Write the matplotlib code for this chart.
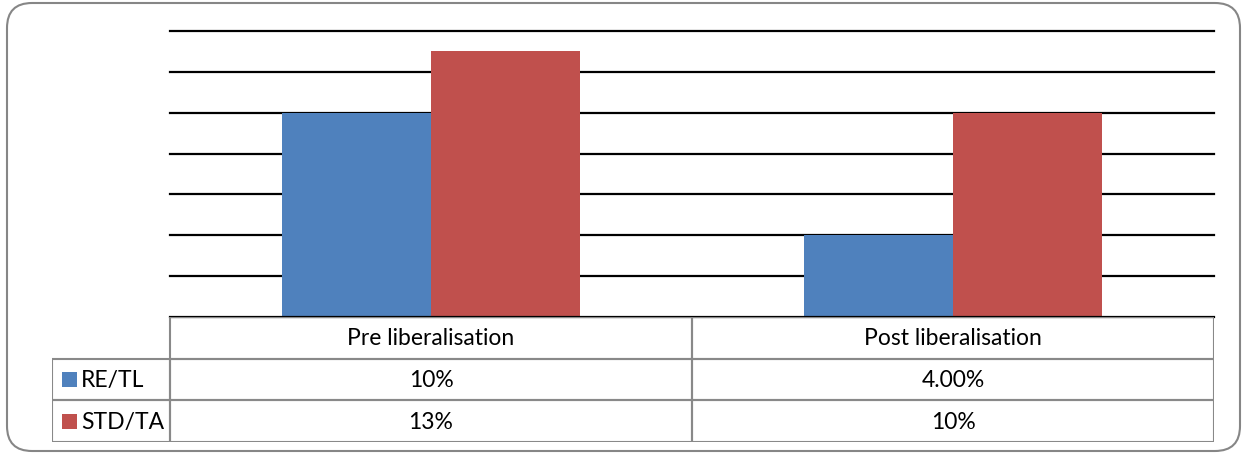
import matplotlib.pyplot as plt
from matplotlib.patches import Rectangle, FancyBboxPatch
import numpy as np

# Chart data
categories = ["Pre liberalisation", "Post liberalisation"]
series_names = ["RE/TL", "STD/TA"]
re_tl = [10, 4]
std_ta = [13, 10]
re_tl_labels = ["10%", "4.00%"]
std_ta_labels = ["13%", "10%"]
colors = ["#4F81BD", "#C0504D"]

plt.rcParams['font.family'] = ['Lato', 'DejaVu Sans']
FS = 16.5

W, H = 1244, 456
fig = plt.figure(figsize=(W / 100, H / 100), dpi=100)

# rounded outer frame
frame = FancyBboxPatch((7 / W, 4 / H), (1240 - 7) / W, (452 - 4) / H,
                       boxstyle="round,pad=0,rounding_size=%f" % (25 / W),
                       transform=fig.transFigure, facecolor="none",
                       edgecolor="#868686", linewidth=1.5, mutation_aspect=W / H,
                       zorder=-1)
fig.patches.append(frame)

# plot area
left, right, top, base = 170, 1214, 32, 318
ax = fig.add_axes([left / W, 1 - base / H, (right - left) / W, (base - top) / H])
x = np.arange(len(categories))
bw = 1 / 3.5
ax.bar(x - bw / 2, re_tl, bw, color=colors[0], zorder=2)
ax.bar(x + bw / 2, std_ta, bw, color=colors[1], zorder=2)
ax.set_xlim(-0.5, len(categories) - 0.5)
ax.set_ylim(0, 14)
for yv in np.arange(0, 15, 2):
    ax.axhline(yv, color="black", lw=1.6, zorder=3 if yv == 0 else 1, clip_on=False)
ax.set_xticks([])
ax.set_yticks([])
for s in ax.spines.values():
    s.set_visible(False)
ax.patch.set_alpha(0)

# data table
tleft, tbottom = 52, 443
lab_w = (left - tleft) / ((right - left) / len(categories))
tax = fig.add_axes([tleft / W, 1 - tbottom / H, (right - tleft) / W, (tbottom - base) / H])
tax.set_xlim(-0.5 - lab_w, len(categories) - 0.5)
tax.set_ylim(3, 0)
tax.axis("off")
edge = "#898989"
rows = [re_tl_labels, std_ta_labels]
for i, cat in enumerate(categories):
    tax.add_patch(Rectangle((i - 0.5, 0), 1, 1, fill=False, ec=edge, lw=1.5))
    tax.text(i, 0.5, cat, ha="center", va="center", fontsize=FS)
    for r, vals in enumerate(rows):
        tax.add_patch(Rectangle((i - 0.5, r + 1), 1, 1, fill=False, ec=edge, lw=1.5))
        tax.text(i, r + 1.5, vals[i], ha="center", va="center", fontsize=FS)
px = 1 / ((right - left) / len(categories))
for r, name in enumerate(series_names):
    tax.add_patch(Rectangle((-0.5 - lab_w, r + 1), lab_w, 1, fill=False, ec=edge, lw=1.5))
    sq = 15 * px
    tax.add_patch(Rectangle((-0.5 - lab_w + 10 * px, r + 1.5 - 0.18), sq, 0.36,
                            color=colors[r], lw=0))
    tax.text(-0.5 - lab_w + 29 * px, r + 1.5, name, ha="left", va="center", fontsize=FS)

fig.savefig("out.png", dpi=100)
